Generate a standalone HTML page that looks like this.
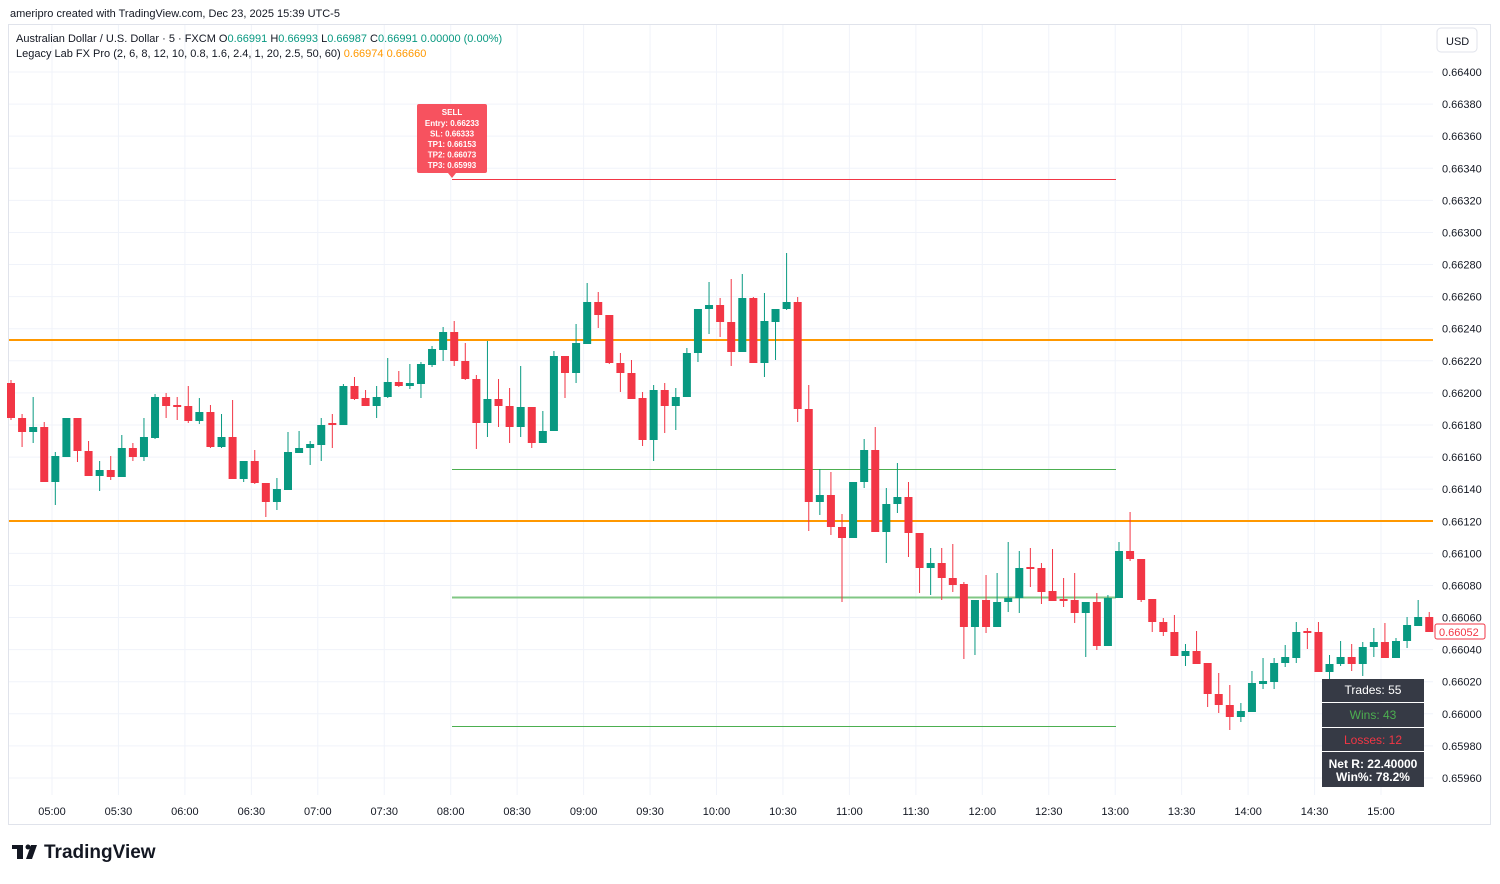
<!DOCTYPE html>
<html><head><meta charset="utf-8"><style>
body{margin:0;background:#fff;width:1500px;height:879px;overflow:hidden;font-family:"Liberation Sans",sans-serif}
svg text{font-family:"Liberation Sans",sans-serif}
</style></head><body>
<svg id="s" width="1500" height="879" xmlns="http://www.w3.org/2000/svg">
<rect x="8.5" y="24.5" width="1482" height="800" fill="#fff" stroke="#e0e3eb"/>
<g id="grid" stroke="#f0f3fa" stroke-width="1"></g>
<line x1="9" y1="340" x2="1433" y2="340" stroke="#ff9800" stroke-width="2"/>
<line x1="9" y1="521" x2="1433" y2="521" stroke="#ff9800" stroke-width="2"/>
<line x1="452" y1="179.5" x2="1116" y2="179.5" stroke="#f23645" stroke-width="1"/>
<line x1="452" y1="469.5" x2="1116" y2="469.5" stroke="#4caf50" stroke-width="1"/>
<line x1="452" y1="597.5" x2="1116" y2="597.5" stroke="#81c784" stroke-width="2"/>
<line x1="452" y1="726.5" x2="1116" y2="726.5" stroke="#4caf50" stroke-width="1"/>
<g id="c"></g>
<rect x="417" y="104" width="70" height="69" rx="2" fill="#f7525f"/>
<polygon points="448,173 456,173 452,178" fill="#f7525f"/>
<g fill="#fff" font-size="8" font-weight="bold" text-anchor="middle">
<text x="452" y="115">SELL</text><text x="452" y="126">Entry: 0.66233</text><text x="452" y="136.5">SL: 0.66333</text><text x="452" y="147">TP1: 0.66153</text><text x="452" y="157.5">TP2: 0.66073</text><text x="452" y="168">TP3: 0.65993</text></g>
<g id="ax" font-size="11" fill="#131722"></g>
<rect x="1437" y="28" width="40" height="24" rx="4" fill="#fff" stroke="#e0e3eb"/>
<text x="1446" y="45" font-size="11" fill="#131722">USD</text>
<rect x="1435" y="624" width="50" height="15" rx="2" fill="#fff" stroke="#f23645"/>
<text x="1439" y="636" font-size="11" fill="#f23645">0.66052</text>
<g font-size="12">
<rect x="1322" y="679" width="102" height="23" fill="#363a45"/><text x="1373" y="694" fill="#fff" text-anchor="middle">Trades: 55</text>
<rect x="1322" y="703" width="102" height="24" fill="#363a45"/><text x="1373" y="719" fill="#4caf50" text-anchor="middle">Wins: 43</text>
<rect x="1322" y="728" width="102" height="23" fill="#363a45"/><text x="1373" y="744" fill="#f23645" text-anchor="middle">Losses: 12</text>
<rect x="1322" y="752" width="102" height="35" fill="#363a45"/><text x="1373" y="768" fill="#fff" text-anchor="middle" font-weight="bold">Net R: 22.40000</text><text x="1373" y="781" fill="#fff" text-anchor="middle" font-weight="bold">Win%: 78.2%</text>
</g>
<text x="10" y="17" font-size="11" fill="#131722">ameripro created with TradingView.com, Dec 23, 2025 15:39 UTC-5</text>
<text x="16" y="42" font-size="11" fill="#131722">Australian Dollar / U.S. Dollar · 5 · FXCM  O<tspan fill="#089981">0.66991</tspan>  H<tspan fill="#089981">0.66993</tspan>  L<tspan fill="#089981">0.66987</tspan>  C<tspan fill="#089981">0.66991  0.00000 (0.00%)</tspan></text>
<text x="16" y="57" font-size="11" fill="#131722">Legacy Lab FX Pro (2, 6, 8, 12, 10, 0.8, 1.6, 2.4, 1, 20, 2.5, 50, 60)  <tspan fill="#ff9800">0.66974  0.66660</tspan></text>
<g fill="#131722"><rect x="12" y="845" width="11" height="4"/><rect x="17" y="845" width="6" height="14"/><circle cx="28" cy="847" r="2.5"/><polygon points="31,845 37,845 32,859 26,859"/></g>
<text x="44" y="858" font-size="19" font-weight="bold" fill="#131722">TradingView</text>
</svg>
<script>
var d=[[383,418,380,420],[418,432,414,447],[432,427,397,443],[427,482,422,482],[482,456,452,505],[457,418,418,457],[418,451,418,462],[451,476,441,476],[476,470,461,491],[470,477,456,480],[477,448,435,477],[448,457,443,461],[457,437,418,461],[438,397,394,439],[397,406,393,418],[406,406,397,420],[406,421,386,423],[421,412,398,424],[412,447,405,448],[447,437,414,448],[437,479,400,479],[479,461,461,482],[461,483,450,484],[483,502,483,517],[502,489,478,510],[490,452,432,490],[453,448,431,453],[448,444,441,465],[445,425,418,461],[424,424,414,448],[425,386,384,425],[386,399,377,400],[398,406,390,406],[406,397,386,418],[397,382,358,398],[382,386,371,387],[386,383,364,389],[384,364,362,398],[365,349,346,367],[350,332,327,361],[332,361,321,366],[361,379,343,380],[379,423,375,449],[423,399,341,437],[399,406,379,427],[406,427,388,443],[427,407,366,437],[407,443,407,448],[443,431,411,443],[431,356,351,431],[356,373,356,398],[373,343,324,383],[344,302,283,344],[302,315,292,328],[315,363,315,364],[363,373,353,392],[373,399,360,399],[398,440,392,446],[440,390,385,461],[390,406,383,433],[406,397,388,430],[397,353,348,397],[353,309,309,362],[309,305,282,334],[305,322,298,337],[322,352,279,366],[352,298,274,352],[298,363,297,363],[363,321,293,377],[322,309,309,360],[309,302,253,310],[302,409,297,422],[409,502,385,531],[502,495,469,515],[495,527,472,535],[527,538,514,602],[538,482,482,538],[482,450,439,488],[450,532,427,532],[532,504,488,563],[504,497,463,513],[497,533,482,557],[533,568,533,593],[568,563,548,595],[563,578,548,600],[578,585,544,592],[584,627,582,659],[627,600,600,655],[600,627,575,633],[627,602,573,627],[602,598,542,612],[598,568,551,613],[568,568,548,587],[568,592,563,604],[591,601,549,601],[600,600,578,607],[600,613,573,623],[613,602,602,657],[602,646,593,650],[646,598,595,646],[598,551,542,598],[551,559,512,561],[559,600,559,602],[599,622,599,632],[622,632,618,636],[632,656,615,656],[656,651,644,666],[651,664,631,664],[663,694,663,707],[694,705,673,713],[705,717,685,730],[717,711,703,722],[712,683,671,712],[684,681,658,689],[682,663,658,689],[663,657,645,667],[658,632,622,663],[632,632,628,649],[632,672,622,672],[672,664,655,689],[664,657,641,666],[657,664,644,671],[664,647,642,676],[647,642,628,657],[642,658,623,658],[658,641,638,658],[641,625,617,648],[626,617,600,626],[617,632,612,632]];
var h='';d.forEach(function(c,i){var x=11+i*11.08,up=c[1]<c[0],col=up?'#089981':'#f23645',t=Math.min(c[0],c[1]),b=Math.max(c[0],c[1]);if(b-t<2){t-=1;b+=1}
h+='<line x1="'+x+'" y1="'+c[2]+'" x2="'+x+'" y2="'+c[3]+'" stroke="'+col+'" stroke-width="1"/><rect x="'+(x-4)+'" y="'+t+'" width="8" height="'+(b-t)+'" fill="'+col+'"/>';});
document.getElementById('c').innerHTML=h;
var g='',a='';for(var k=0;k<23;k++){var y=72+k*32.09;g+='<line x1="9" y1="'+y+'" x2="1433" y2="'+y+'"/>';a+='<text x="1442" y="'+(y+4)+'">'+(0.664-k*0.0002).toFixed(5)+'</text>';}
var tl=['05:00','05:30','06:00','06:30','07:00','07:30','08:00','08:30','09:00','09:30','10:00','10:30','11:00','11:30','12:00','12:30','13:00','13:30','14:00','14:30','15:00'];
tl.forEach(function(s,i){var x=52+i*66.45;g+='<line x1="'+x+'" y1="25" x2="'+x+'" y2="795"/>';a+='<text x="'+x+'" y="815" text-anchor="middle">'+s+'</text>';});
document.getElementById('grid').innerHTML=g;document.getElementById('ax').innerHTML=a;
</script>
</body></html>
